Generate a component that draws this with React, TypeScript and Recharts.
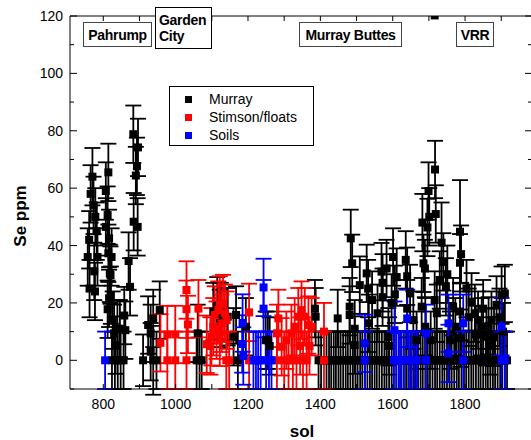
import React from 'react';
import { ScatterChart, Scatter, XAxis, YAxis, ZAxis, ErrorBar, Legend, Label, ReferenceLine } from 'recharts';

type Pt = [number, number, number?];

// [sol, Se ppm, error] (error defaults to 10)
const murray: Pt[] = [
  [757, 36], [761, 42], [762, 25], [765, 58], [770, 64], [773, 54], [775, 31], [777, 24], [778, 50], [782, 45], [784, 36],
  [807, 59], [807, 46.5], [812, 50.6], [812, 17.8], [814, 65.5], [814, 37.3], [816, 42.5], [816, 21.6], [818, 30.3], [820, 29.7],
  [821, 22.7], [823, 36], [824, 0], [826, 14], [830, 9.4], [832, 0], [834, 5.3], [839, 11], [840, 0], [846, 11], [848, 0],
  [856, 0], [858, 15.6], [861, 10.5],
  [870, 34.6], [874, 25.6], [883, 78.8], [884, 48.3], [890, 64.4], [893, 67.6], [895, 46.5], [896, 74.2],
  [910, 0, 9], [924, 12.3], [931, 3], [931, 9.4], [938, 14.6], [938, 0, 12], [947, 0], [956, 17.5],
  [1058, 0], [1061, 9.4], [1066, 0], [1072, 0], [1104, 17], [1115, 19], [1122, 14.6], [1125, 17], [1144, 15.2], [1160, 8.2],
  [1167, 15.8], [1172, 0], [1194, 11.7], [1249, 7], [1255, 7], [1260, 5],
  [1385, 18], [1387, 15.2], [1395, 0], [1402, 0],
  [1448, 14.6], [1481, 18.7], [1481, 15.8], [1484, 42.5], [1488, 33.8], [1495, 11], [1495, 5.3], [1509, 26.2], [1528, 30.3],
  [1532, 25], [1534, 12.9], [1543, 21], [1558, 16.4], [1569, 30.9], [1572, 27], [1572, 22], [1583, 32], [1588, 8.2], [1590, 5],
  [1597, 20], [1601, 36], [1606, 23], [1611, 29], [1636, 35], [1640, 29.3], [1640, 18], [1648, 23.3], [1657, 14], [1666, 7],
  [1680, 18.7], [1682, 48], [1685, 33.8], [1689, 32], [1690, 11.7], [1696, 46.3], [1699, 59], [1701, 50], [1705, 7],
  [1716, 120.2, 0], [1716, 21], [1717, 66.5], [1719, 51], [1722, 16.4], [1730, 28], [1735, 41, 14], [1740, 34.3], [1747, 25.6],
  [1751, 30], [1758, 7], [1767, 18.7], [1773, 11.7], [1786, 44.8, 18], [1786, 34], [1786, 17], [1788, 7.7], [1789, 37],
  [1804, 25], [1810, 15], [1818, 20.4], [1827, 16.4], [1830, 9], [1836, 14], [1846, 11.7], [1850, 18], [1859, 8.2], [1865, 12],
  [1870, 5], [1873, 14], [1880, 8], [1887, 19.3], [1895, 15], [1901, 22.7], [1905, 10], [1910, 23.3],
  [1417, 0], [1424, 0], [1430, 0], [1437, 0], [1443, 0], [1450, 0], [1456, 0], [1463, 0], [1470, 0], [1476, 0], [1483, 0],
  [1490, 0], [1497, 0], [1503, 0], [1510, 0], [1516, 0], [1523, 0], [1530, 0], [1537, 0], [1543, 0], [1550, 0], [1556, 0],
  [1563, 0], [1570, 0], [1577, 0], [1583, 0], [1590, 0], [1597, 0], [1603, 0], [1610, 0], [1617, 0], [1623, 0], [1630, 0],
  [1637, 0], [1643, 0], [1650, 0], [1657, 0], [1663, 0], [1670, 0], [1677, 0], [1683, 0], [1690, 0], [1697, 0], [1703, 0],
  [1710, 0], [1717, 0], [1723, 0], [1730, 0], [1737, 0], [1743, 0], [1750, 0], [1757, 0], [1763, 0], [1770, 0], [1777, 0],
  [1783, 0], [1790, 0], [1797, 0], [1803, 0], [1810, 0], [1817, 0], [1823, 0], [1830, 0], [1837, 0], [1843, 0], [1850, 0],
  [1857, 0], [1863, 0], [1870, 0], [1877, 0], [1883, 0], [1890, 0], [1897, 0], [1903, 0], [1910, 0], [1916, 0],
];

const stimson: Pt[] = [
  [958, 6.1], [977, 9], [977, 0], [999, 9], [999, 0], [1030, 24.5], [1030, 17.8], [1030, 0], [1034, 12.5], [1063, 18],
  [1086, 5.6], [1096, 5], [1099, 8.2], [1104, 11.7], [1108, 15.8], [1113, 10.5], [1118, 17.5], [1122, 19.3], [1122, 8],
  [1127, 12.9], [1131, 19.8], [1136, 16.4], [1141, 14], [1140, 0], [1148, 0], [1203, 16.7], [1203, 0],
  [1280, 9.4], [1280, 0], [1284, 14.6], [1293, 4.7], [1300, 0], [1306, 7], [1312, 0], [1320, 9.4], [1324, 0], [1329, 11.7],
  [1334, 0], [1339, 15.2], [1344, 5], [1348, 17.5], [1352, 0], [1357, 15.2], [1362, 0], [1367, 12.3], [1370, 5], [1376, 11.7],
  [1410, 10], [1410, 0],
];

const soils: Pt[] = [
  [805, 0], [1184, 5.7], [1185, 13], [1187, 1.5], [1215, 0], [1222, 0], [1228, 0], [1235, 0], [1243, 25.4], [1243, 18],
  [1250, 0], [1258, 0], [1265, 0], [1523, 5.9], [1523, 0], [1603, 0], [1605, 10.5], [1610, 0], [1617, 0], [1624, 0],
  [1631, 0], [1640, 14.6], [1645, 0], [1652, 0], [1660, 0], [1667, 0], [1692, 9.4], [1692, 0], [1754, 12.9], [1754, 2.4],
  [1795, 12.9], [1795, 0], [1901, 11.7], [1901, 0], [1910, 0],
];

const xTicks = [800, 1000, 1200, 1400, 1600, 1800];
const xAllTicks = [800, 900, 1000, 1100, 1200, 1300, 1400, 1500, 1600, 1700, 1800, 1900];
const yTicks = [0, 20, 40, 60, 80, 100, 120];
const yAllTicks = [-10, 0, 10, 20, 30, 40, 50, 60, 70, 80, 90, 100, 110, 120];
const xDomain: [number, number] = [708, 1985];
const yDomain: [number, number] = [-10, 120];

const seriesNames = ['Murray', 'Stimson/floats', 'Soils'];
const seriesColors = ['#000000', '#ff0000', '#0000ff'];
const regionNames = ['Pahrump', 'Garden City', 'Murray Buttes', 'VRR'];

const FONT = '"Liberation Sans", Arial, Helvetica, sans-serif';

// layout
const W = 531;
const H = 440;
const MARGIN = { top: 16, right: -1, bottom: 21, left: 0 };
const X_AXIS_H = 30;
const Y_AXIS_W = 70;
const PLOT_TOP = MARGIN.top;
const PLOT_BOTTOM = H - MARGIN.bottom - X_AXIS_H;
const PLOT_LEFT = MARGIN.left + Y_AXIS_W;
const PLOT_RIGHT = W - MARGIN.right;

const toRows = (pts: Pt[]) => pts.map(([x, y, e]) => ({ x, y, e: e === undefined ? 10 : e }));
const seriesData = [toRows(murray), toRows(stimson), toRows(soils)];

const regionStyles: React.CSSProperties[] = [
  { left: 83, top: 22, width: 69, height: 25, justifyContent: 'center', borderColor: '#444' },
  { left: 155, top: 7, width: 57, height: 42, justifyContent: 'flex-start', borderColor: '#000', paddingLeft: 3, lineHeight: '16px' },
  { left: 299, top: 22, width: 103, height: 25, justifyContent: 'center', borderColor: '#444' },
  { left: 456, top: 22, width: 38, height: 25, justifyContent: 'center', borderColor: '#444' },
];

const renderLegend = () => (
  <div
    style={{
      boxSizing: 'border-box', width: 145, height: 60, border: '1px solid #000', background: '#fff',
      paddingTop: 3, fontFamily: FONT, fontSize: 14, color: '#000',
    }}
  >
    {seriesNames.map((n, i) => (
      <div key={n} style={{ display: 'flex', alignItems: 'center', height: 18 }}>
        <span style={{ display: 'inline-block', width: 7, height: 7, background: seriesColors[i], marginLeft: 15, marginRight: 17 }} />
        <span>{n}</span>
      </div>
    ))}
  </div>
);

const renderXTick = (props: any) => {
  const { x, y, payload } = props;
  const v = payload.value;
  const labelled = xTicks.indexOf(v) >= 0;
  return (
    <g>
      <line x1={x} x2={x} y1={PLOT_BOTTOM} y2={PLOT_BOTTOM - 5} stroke="#000" strokeWidth={1} />
      <line x1={x} x2={x} y1={PLOT_TOP} y2={PLOT_TOP + 5} stroke="#000" strokeWidth={1} />
      {labelled && (
        <text x={x} y={y} dy="0.71em" textAnchor="middle" fontFamily={FONT} fontSize={14} fill="#000">{v}</text>
      )}
    </g>
  );
};

const renderYTick = (props: any) => {
  const { x, y, payload } = props;
  const v = payload.value;
  const labelled = yTicks.indexOf(v) >= 0;
  const len = labelled ? 7 : 4;
  return (
    <g>
      <line x1={PLOT_LEFT} x2={PLOT_LEFT + len} y1={y} y2={y} stroke="#000" strokeWidth={1} />
      <line x1={PLOT_RIGHT} x2={PLOT_RIGHT - len} y1={y} y2={y} stroke="#000" strokeWidth={1} />
      {labelled && (
        <text x={x} y={y} dy="0.355em" textAnchor="end" fontFamily={FONT} fontSize={14} fill="#000">{v}</text>
      )}
    </g>
  );
};

const renderXLabel = (props: any) => {
  const vb = props.viewBox || {};
  return (
    <text x={vb.x + vb.width / 2 + 1} y={vb.y + 47.5} textAnchor="middle" fontFamily={FONT} fontWeight="bold" fontSize={17} fill="#000">
      sol
    </text>
  );
};

const renderYLabel = (props: any) => {
  const vb = props.viewBox || {};
  const cx = vb.x + 26;
  const cy = vb.y + vb.height / 2 + 13.5;
  return (
    <text x={cx} y={cy} transform={`rotate(-90 ${cx} ${cy})`} textAnchor="middle" fontFamily={FONT} fontWeight="bold" fontSize={17} fill="#000">
      Se ppm
    </text>
  );
};

export default function App() {
  return (
    <div style={{ position: 'absolute', left: 0, top: 0, width: W, height: H, background: '#fff', overflow: 'hidden' }}>
      <ScatterChart width={W} height={H} margin={MARGIN}>
        <XAxis xAxisId="b" type="number" dataKey="x" domain={xDomain} allowDataOverflow ticks={xAllTicks} interval={0}
          height={X_AXIS_H} tickLine={false} tickSize={0} tickMargin={10} axisLine={{ stroke: '#000' }} tick={renderXTick}>
          <Label content={renderXLabel} />
        </XAxis>
        <YAxis yAxisId="l" type="number" dataKey="y" domain={yDomain} allowDataOverflow ticks={yAllTicks} interval={0}
          width={Y_AXIS_W} tickLine={false} tickSize={0} tickMargin={7} axisLine={{ stroke: '#000' }} tick={renderYTick}>
          <Label content={renderYLabel} />
        </YAxis>
        <ZAxis zAxisId="z" range={[56, 56]} />
        <ReferenceLine xAxisId="b" yAxisId="l" y={120} stroke="#000" strokeWidth={1} />
        <Legend layout="vertical" align="center" verticalAlign="middle" content={renderLegend}
          wrapperStyle={{ left: 169, top: 86, width: 145, height: 60 }} />
        {seriesNames.map((n, i) => (
          <Scatter key={n} name={n} data={seriesData[i]} xAxisId="b" yAxisId="l" zAxisId="z" shape="square"
            fill={seriesColors[i]} isAnimationActive={false}>
            <ErrorBar dataKey="e" direction="y" width={8} stroke={seriesColors[i]} strokeWidth={1.8} isAnimationActive={false} />
          </Scatter>
        ))}
      </ScatterChart>
      {regionNames.map((n, i) => (
        <div key={n}
          style={{
            position: 'absolute', boxSizing: 'border-box', display: 'flex', alignItems: 'center',
            border: '1px solid', background: '#fff', fontFamily: FONT, fontWeight: 'bold', fontSize: 14,
            color: '#000', letterSpacing: -0.3, whiteSpace: i === 1 ? 'normal' : 'nowrap', ...regionStyles[i],
          }}>
          {i === 1 ? <span style={{ width: 50 }}>{n}</span> : n}
        </div>
      ))}
    </div>
  );
}
